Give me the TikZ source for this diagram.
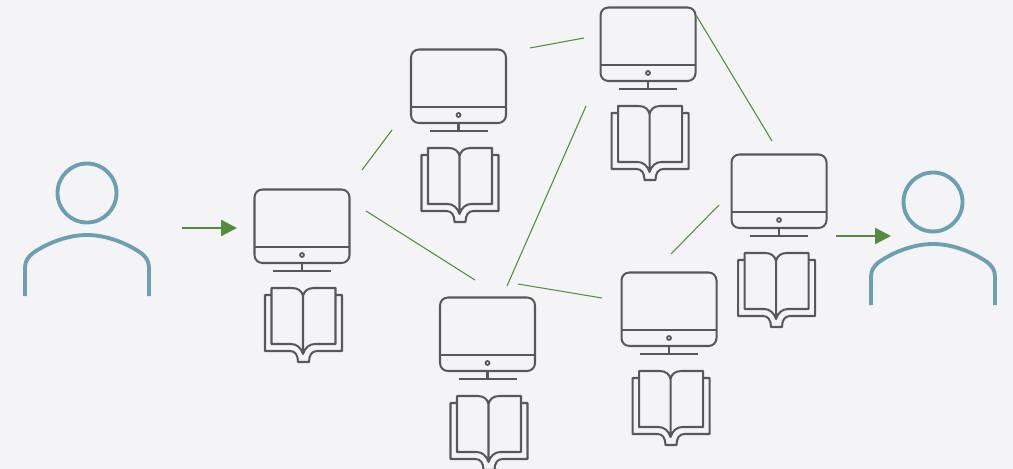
\documentclass[tikz,border=0pt]{standalone}
\usepackage{xcolor}
\usetikzlibrary{arrows.meta}
\definecolor{pagebg}{HTML}{F4F4F6}
\definecolor{devgray}{HTML}{58585B}
\definecolor{userblue}{HTML}{6B9FB2}
\definecolor{linkgreen}{HTML}{558B3E}
\tikzset{
  devline/.style={draw=devgray, line width=1.15pt, line join=round},
  userline/.style={draw=userblue, line width=2.2pt},
  linkline/.style={draw=linkgreen, line width=0.6pt},
  flowarrow/.style={draw=linkgreen, fill=linkgreen, line width=1.3pt, -{Triangle[length=9pt, width=9pt]}},
  pics/station/.style={code={
    % Monitor
    \draw[devline, rounded corners=4.5pt] (-47.5,0.5) rectangle (47.5,74);
    \draw[devline] (-47.5,58) -- (47.5,58);
    \draw[devline, line width=1pt] (0,66) circle[radius=2];
    \draw[devline] (0,74) -- (0,82);
    \draw[devline] (-29,82) -- (29,82);
    % Livro
    \begin{scope}[shift={(#1,0)}]
    \draw[devline] (-31,106) -- (-37,106) -- (-37,162) -- (-12,162)
      .. controls (-7,162) and (-4,166) .. (-4,173) -- (7,173)
      .. controls (7,166) and (10,162) .. (15,162) -- (40,162) -- (40,106) -- (34,106);
    \draw[devline] (1,107) .. controls (0,102) and (-4,99) .. (-10,99) -- (-30.5,99) -- (-30.5,155) -- (-11,155)
      .. controls (-5,155) and (-1,159) .. (1,165) .. controls (3,159) and (7,155) .. (13,155)
      -- (33.5,155) -- (33.5,99) -- (12,99) .. controls (6,99) and (2,102) .. (1,107) -- (1,165);
    \end{scope}
  }},
  person/.pic={
    \draw[userline] (0,0) circle[radius=29.5];
    \draw[userline] (-62,103) -- (-62,75) .. controls (-62,68) and (-59,64) .. (-54,60)
      .. controls (-38,49) and (-18,42) .. (0,42) .. controls (18,42) and (38,49) .. (54,60)
      .. controls (59,64) and (62,68) .. (62,75) -- (62,103);
  }
}
\begin{document}
\begin{tikzpicture}[x=0.02cm, y=-0.02cm]
    % Fundo
    \fill[pagebg] (0,0) rectangle (1013,469);
    \useasboundingbox (0,0) rectangle (1013,469);
    % Usuarios
    \pic (userleft) at (87,193) {person};
    \pic (userright) at (933,202) {person};
    % Estacoes
    \foreach \name/\px/\py/\bk in {a/302/189/0, b/458.5/49/0, c/648/7/0.5, d/779/154/-4, e/487.5/297/0, f/669/272/0.5}
        \pic (\name) at (\px,\py) {station=\bk};
    % Pontas das ligacoes
    \coordinate (ab1) at (362,170);
    \coordinate (ab2) at (392,130);
    \coordinate (ae1) at (366,211);
    \coordinate (ae2) at (475,280);
    \coordinate (bc1) at (530,48);
    \coordinate (bc2) at (584,38);
    \coordinate (ce1) at (586,106);
    \coordinate (ce2) at (507,286);
    \coordinate (ef1) at (518,284);
    \coordinate (ef2) at (602,298);
    \coordinate (fd1) at (671,254);
    \coordinate (fd2) at (719,205);
    \coordinate (cd1) at (696,15);
    \coordinate (cd2) at (772,141);
    \foreach \pa/\pb in {ab1/ab2, ae1/ae2, bc1/bc2, ce1/ce2, ef1/ef2, fd1/fd2, cd1/cd2}
        \draw[linkline] (\pa) -- (\pb);
    % Setas
    \coordinate (inA) at (182,228);
    \coordinate (inB) at (237,228);
    \coordinate (outA) at (836,236);
    \coordinate (outB) at (891,236);
    \draw[flowarrow] (inA) -- (inB);
    \draw[flowarrow] (outA) -- (outB);
\end{tikzpicture}
\end{document}
